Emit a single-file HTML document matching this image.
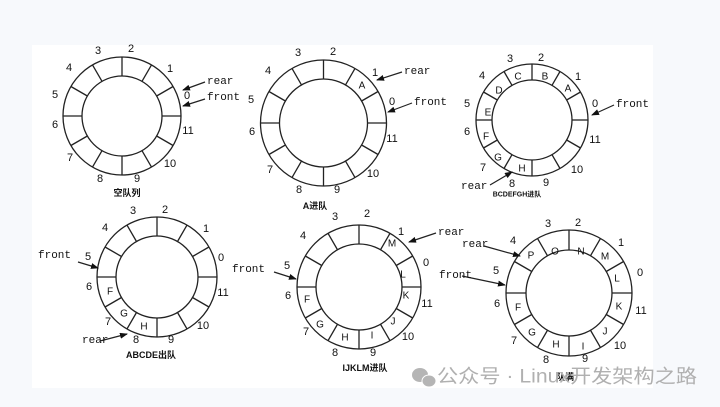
<!DOCTYPE html>
<html><head><meta charset="utf-8"><style>
html,body{margin:0;padding:0;background:#f7f9fc;}
svg{display:block;}
text{font-family:"Liberation Sans","Noto Sans CJK SC",sans-serif;fill:#111;}
.n{font-size:11px;text-anchor:middle;dominant-baseline:central;}
.l{font-size:10px;text-anchor:middle;dominant-baseline:central;}
.t{font-family:"Liberation Mono","Noto Sans CJK SC",monospace;font-size:11px;dominant-baseline:central;}
.c{font-size:9px;text-anchor:middle;dominant-baseline:central;font-weight:bold;}
</style></head><body>
<svg id="s" width="720" height="407" viewBox="0 0 720 407" xmlns="http://www.w3.org/2000/svg">
<defs><marker id="a" markerWidth="8" markerHeight="6" refX="7" refY="3" orient="auto" markerUnits="userSpaceOnUse"><path d="M0,0 L8,3 L0,6 z" fill="#111"/></marker></defs>
<rect x="32" y="45" width="621" height="343" fill="#fff"/>
<g id="rings" stroke="#222" stroke-width="1.3" fill="none"></g>
<g stroke="#222" stroke-width="1.2" marker-end="url(#a)">
<line x1="205" y1="82" x2="183" y2="90"/><line x1="205" y1="99" x2="183" y2="106"/>
<line x1="402" y1="72" x2="377" y2="80"/><line x1="412" y1="103" x2="388" y2="112"/>
<line x1="614" y1="105" x2="592" y2="115"/><line x1="490" y1="185" x2="512" y2="172"/>
<line x1="78" y1="262" x2="98" y2="268"/><line x1="100" y1="341" x2="127" y2="334"/>
<line x1="274" y1="272" x2="296" y2="279"/><line x1="436" y1="233" x2="409" y2="242"/>
<line x1="484" y1="246" x2="520" y2="256"/><line x1="462" y1="276" x2="505" y2="285"/>
</g>
<!-- ring1 -->
<text class="n" x="98" y="51">3</text><text class="n" x="131" y="49">2</text><text class="n" x="170" y="69">1</text><text class="n" x="187" y="96">0</text><text class="n" x="188" y="131">11</text><text class="n" x="170" y="164">10</text><text class="n" x="137" y="179">9</text><text class="n" x="100" y="179">8</text><text class="n" x="70" y="158">7</text><text class="n" x="55" y="125">6</text><text class="n" x="55" y="95">5</text><text class="n" x="69" y="68">4</text>
<text class="t" x="207" y="82">rear</text><text class="t" x="207" y="98">front</text>
<text class="c" x="127" y="193">空队列</text>
<!-- ring2 -->
<text class="n" x="298" y="53">3</text><text class="n" x="333" y="52">2</text><text class="n" x="375" y="73">1</text><text class="n" x="392" y="102">0</text><text class="n" x="392" y="139">11</text><text class="n" x="373" y="174">10</text><text class="n" x="337" y="190">9</text><text class="n" x="299" y="190">8</text><text class="n" x="270" y="170">7</text><text class="n" x="252" y="132">6</text><text class="n" x="251" y="100">5</text><text class="n" x="268" y="71">4</text>
<text class="l" x="362" y="86">A</text>
<text class="t" x="404" y="72">rear</text><text class="t" x="414" y="103">front</text>
<text class="c" x="315" y="206">A进队</text>
<!-- ring3 -->
<text class="n" x="510" y="59">3</text><text class="n" x="541" y="58">2</text><text class="n" x="578" y="77">1</text><text class="n" x="595" y="104">0</text><text class="n" x="595" y="140">11</text><text class="n" x="577" y="170">10</text><text class="n" x="546" y="183">9</text><text class="n" x="512" y="184">8</text><text class="n" x="483" y="168">7</text><text class="n" x="467" y="132">6</text><text class="n" x="467" y="104">5</text><text class="n" x="482" y="76">4</text>
<text class="l" x="518" y="77">C</text><text class="l" x="545" y="77">B</text><text class="l" x="568" y="89">A</text><text class="l" x="499" y="91">D</text><text class="l" x="488" y="113">E</text><text class="l" x="486" y="137">F</text><text class="l" x="498" y="158">G</text><text class="l" x="522" y="169">H</text>
<text class="t" x="616" y="105">front</text><text class="t" x="461" y="187">rear</text>
<text class="c" x="517" y="195" style="font-size:7px">BCDEFGH进队</text>
<!-- ring4 -->
<text class="n" x="133" y="211">3</text><text class="n" x="165" y="210">2</text><text class="n" x="206" y="229">1</text><text class="n" x="221" y="258">0</text><text class="n" x="223" y="293">11</text><text class="n" x="203" y="326">10</text><text class="n" x="171" y="340">9</text><text class="n" x="136" y="340">8</text><text class="n" x="108" y="322">7</text><text class="n" x="89" y="287">6</text><text class="n" x="88" y="257">5</text><text class="n" x="105" y="228">4</text>
<text class="l" x="110" y="292">F</text><text class="l" x="124" y="314">G</text><text class="l" x="144" y="327">H</text>
<text class="t" x="38" y="256">front</text><text class="t" x="82" y="341">rear</text>
<text class="c" x="151" y="355">ABCDE出队</text>
<!-- ring5 -->
<text class="n" x="335" y="217">3</text><text class="n" x="367" y="214">2</text><text class="n" x="401" y="232">1</text><text class="n" x="426" y="263">0</text><text class="n" x="427" y="304">11</text><text class="n" x="408" y="337">10</text><text class="n" x="373" y="353">9</text><text class="n" x="335" y="353">8</text><text class="n" x="306" y="332">7</text><text class="n" x="288" y="296">6</text><text class="n" x="287" y="266">5</text><text class="n" x="303" y="236">4</text>
<text class="l" x="392" y="244">M</text><text class="l" x="403" y="275">L</text><text class="l" x="406" y="296">K</text><text class="l" x="393" y="322">J</text><text class="l" x="372" y="336">I</text><text class="l" x="345" y="338">H</text><text class="l" x="320" y="325">G</text><text class="l" x="307" y="300">F</text>
<text class="t" x="232" y="270">front</text><text class="t" x="438" y="233">rear</text>
<text class="c" x="365" y="368">IJKLM进队</text>
<!-- ring6 -->
<text class="n" x="548" y="224">3</text><text class="n" x="578" y="223">2</text><text class="n" x="621" y="243">1</text><text class="n" x="640" y="273">0</text><text class="n" x="641" y="311">11</text><text class="n" x="620" y="346">10</text><text class="n" x="585" y="359">9</text><text class="n" x="546" y="360">8</text><text class="n" x="514" y="341">7</text><text class="n" x="497" y="304">6</text><text class="n" x="496" y="271">5</text><text class="n" x="513" y="241">4</text>
<text class="l" x="581" y="252">N</text><text class="l" x="555" y="252">O</text><text class="l" x="531" y="256">P</text><text class="l" x="605" y="257">M</text><text class="l" x="617" y="279">L</text><text class="l" x="619" y="307">K</text><text class="l" x="605" y="332">J</text><text class="l" x="583" y="347">I</text><text class="l" x="556" y="345">H</text><text class="l" x="532" y="333">G</text><text class="l" x="518" y="308">F</text>
<text class="t" x="462" y="245">rear</text><text class="t" x="439" y="276">front</text>
<text class="c" x="565" y="377">队满</text>
<!-- watermark -->
<g fill="#b5b5b5"><ellipse cx="420" cy="375" rx="8" ry="7"/><ellipse cx="429" cy="381" rx="7" ry="6" stroke="#fff" stroke-width="1"/></g>
<text x="437" y="377" style="font-size:19px;fill:#b0b0b0;dominant-baseline:central" textLength="260" lengthAdjust="spacingAndGlyphs">公众号 · Linux开发架构之路</text>
</svg>
<script>
var R=[[122,116,59,40],[323.5,123,63,44],[532,120,56,40],[157,277,60,41],[359,287,62,43],[569,293,63,43]];
var g=document.getElementById('rings'),h='';
R.forEach(function(r){h+='<circle cx="'+r[0]+'" cy="'+r[1]+'" r="'+r[2]+'"/><circle cx="'+r[0]+'" cy="'+r[1]+'" r="'+r[3]+'"/>';
for(var i=0;i<12;i++){var a=i*Math.PI/6,c=Math.cos(a),s=Math.sin(a);
h+='<line x1="'+(r[0]+r[3]*c)+'" y1="'+(r[1]-r[3]*s)+'" x2="'+(r[0]+r[2]*c)+'" y2="'+(r[1]-r[2]*s)+'"/>';}});
g.innerHTML=h;
</script>
</body></html>
